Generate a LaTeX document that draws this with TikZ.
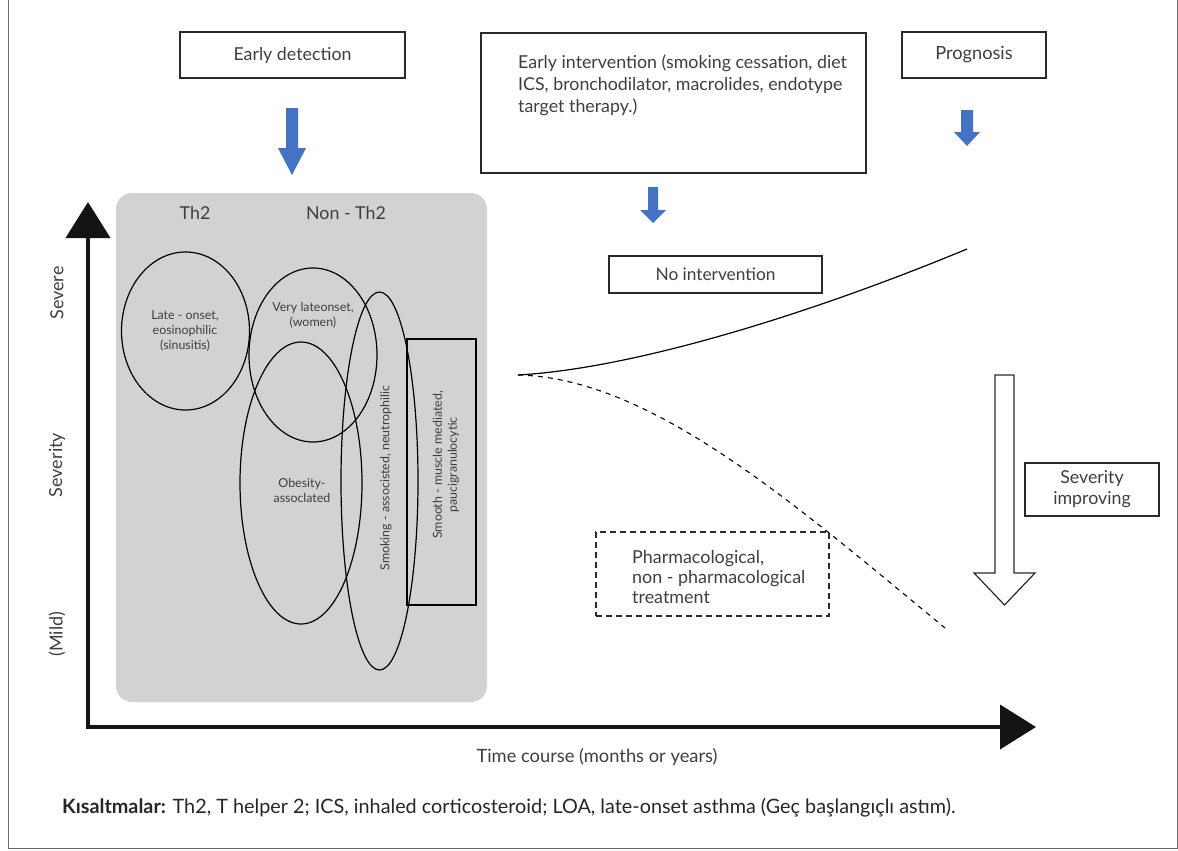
\documentclass[tikz,border=0pt]{standalone}
\usepackage{fontspec}
\setmainfont{Lato}
\usetikzlibrary{positioning,shapes.geometric,arrows.meta}
\definecolor{cPanel}{HTML}{D1D2D4}
\definecolor{cBlue}{HTML}{4472C4}
\definecolor{cText}{HTML}{3E3E3E}
\definecolor{cLine}{HTML}{2A2A2A}
\definecolor{cFrame}{HTML}{6B6B6B}
\tikzset{
  font=\fontsize{17.8}{21}\selectfont,
  lbl/.style={text=cText, align=center, inner sep=0pt},
  small/.style={lbl, font=\fontsize{12.4}{15}\selectfont},
  side/.style={lbl, rotate=90, font=\fontsize{18}{20}\selectfont},
  box/.style={draw=cLine, line width=1.1pt, lbl},
  dbox/.style={draw=cLine, line width=1.3pt, dash pattern=on 6pt off 4pt, inner sep=0pt},
  panel/.style={fill=cPanel, rounded corners=16pt, inner sep=0pt},
  ring/.style={ellipse, draw=black, line width=1.2pt, inner sep=0pt},
  axis/.style={line width=4pt, draw=black!92, line cap=rect,
               -{Triangle[length=36pt,width=44pt]}},
  course/.style={line width=1.2pt, draw=black},
}

\begin{document}
\begin{tikzpicture}[x=1pt, y=-1pt]
\useasboundingbox (0,0) rectangle (1178,851);
\draw[cFrame, line width=1pt] (8,0) rectangle (1177,848);

% ------------------------------------------------------------------ top boxes
\node[box, minimum width=225pt, minimum height=46pt] (detect) at (292.5,55) {Early detection};
\node[box, minimum width=385pt, minimum height=140pt] (interv) at (673.5,103) {};
\node[lbl, anchor=west, align=left, font=\fontsize{17.8}{22}\selectfont] (intervtxt) at (518,85)
  {Early intervention (smoking cessation, diet\\ICS, bronchodilator, macrolides, endotype\\target therapy.)};
\node[box, minimum width=144pt, minimum height=46pt, font=\fontsize{18.2}{21}\selectfont] (prog) at (974,55) {Prognosis};

% blue block arrows: x / top / tip / half shaft / half head / head start
\foreach \ax/\ya/\yb/\sw/\hw/\hy in {292/108/175/6/14/148, 653/187/223/5/13/210, 967/110/146/6/13/132}
  \fill[cBlue] (\ax-\sw,\ya) -- (\ax+\sw,\ya) -- (\ax+\sw,\hy) -- (\ax+\hw,\hy)
    -- (\ax,\yb) -- (\ax-\hw,\hy) -- (\ax-\sw,\hy) -- cycle;

% ------------------------------------------------------------------ phenotypes
\node[panel, minimum width=371pt, minimum height=509pt] (panel) at (301.5,447.5) {};
\node[lbl] (th2)   at (195,213) {Th2};
\node[lbl] (nonth) at (346,213) {Non - Th2};

\node[ring, minimum width=128pt, minimum height=158pt] (late)  at (185.5,331) {};
\node[ring, minimum width=128pt, minimum height=174pt] (vlate) at (313,355) {};
\node[ring, minimum width=122pt, minimum height=282pt] (obese) at (301,483) {};
\node[ring, minimum width=77pt,  minimum height=378pt] (smoke) at (379.5,481) {};
\node[draw=black, line width=1.2pt, minimum width=69pt, minimum height=266pt, inner sep=0pt]
  (smooth) at (441.5,472) {};

\node[small] (latetxt)   at (185,331)   {Late - onset,\\eosinophilic\\(sinusitis)};
\node[small] (vlatetxt)  at (313,315.5) {Very lateonset,\\(women)};
\node[small] (obesetxt)  at (302,490)   {Obesity-\\assoclated};
\node[small, rotate=90] (smoketxt)  at (386,478) {Smoking - associsted, neutrophilic};
\node[small, rotate=90] (smoothtxt) at (446,465) {Smooth - muscle mediated,\\paucigranulocytic};

% ------------------------------------------------------------------ axes
\coordinate (orig) at (88,727);
\coordinate (ytip) at (88,202);
\coordinate (xtip) at (1036,727);
\draw[axis] (orig) -- (ytip);
\draw[axis] (orig) -- (xtip);
\node[side] (severe) at (57,293) {Severe};
\node[side] (sevty)  at (57,465) {Severity};
\node[side] (mild)   at (57,634) {(Mild)};
\node[lbl, font=\fontsize{18.3}{21}\selectfont] (time) at (597,757) {Time course (months or years)};

% ------------------------------------------------------------------ courses
\coordinate (split) at (518,375);
\coordinate (worse) at (967,249);
\coordinate (better) at (945,628);
\draw[course] (split) .. controls (640,368) and (820,310) .. (worse);
\draw[course, line width=1.1pt, dash pattern=on 5pt off 5pt] (split) .. controls (650,378) and (790,500) .. (better);

\node[box, minimum width=213pt, minimum height=37pt, font=\fontsize{17.3}{21}\selectfont] (noint) at (715.5,274.5) {No intervention};
\node[dbox, minimum width=233pt, minimum height=84pt] (pharma) at (712.5,574) {};
\node[lbl, anchor=west, align=left, font=\fontsize{17.9}{20}\selectfont] (pharmatxt) at (632,576.5)
  {Pharmacological,\\non - pharmacological\\treatment};

% hollow arrow: severity improving
\draw[cLine, line width=1.2pt, fill=white] (995,375) -- (1014,375) -- (1014,573) -- (1035,573)
  -- (1004.5,605) -- (974,573) -- (995,573) -- cycle;
\node[box, minimum width=134pt, minimum height=53pt] (sevimp) at (1092,489.5) {Severity\\improving};

% ------------------------------------------------------------------ legend
\node[lbl, anchor=west, text=black!85, font=\fontsize{19.8}{22}\selectfont] (abbr) at (62,808)
  {\textbf{Kısaltmalar:} Th2, T helper 2; ICS, inhaled corticosteroid; LOA, late-onset asthma (Geç başlangıçlı astım).};

\end{tikzpicture}
\end{document}
